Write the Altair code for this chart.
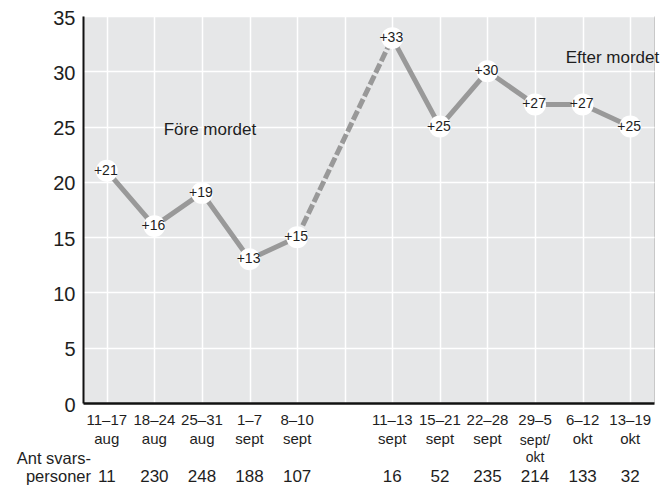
import altair as alt
import pandas as pd

periods = ["11–17", "18–24", "25–31", "1–7", "8–10",
           "11–13", "15–21", "22–28", "29–5", "6–12", "13–19"]
months = ["aug", "aug", "aug", "sept", "sept",
          "sept", "sept", "sept", "sept/", "okt", "okt"]
months_extra = ["", "", "", "", "", "", "", "", "okt", "", ""]
values = [21, 16, 19, 13, 15, 33, 25, 30, 27, 27, 25]
respondents = [11, 230, 248, 188, 107, 16, 52, 235, 214, 133, 32]
phase = ["pre"] * 5 + ["post"] * 6
gap_key = " "
x_domain = periods[:5] + [gap_key] + periods[5:]

ann_text = ["Före mordet", "Efter mordet"]
ann_x = ["25–31", "13–19"]
ann_y = [24.7, 31.2]
ann_align = ["center", "right"]

df = pd.DataFrame({
    "period": periods, "month": months, "month2": months_extra, "value": values,
    "resp": respondents, "phase": phase,
    "label": ["+%d" % v for v in values],
})
jump = df.iloc[[4, 5]].copy()

reg = "Liberation Sans, Arial, Helvetica, sans-serif"
ink = "#1e1e1e"

x = alt.X("period:N", scale=alt.Scale(domain=x_domain, paddingInner=0, paddingOuter=0),
          axis=alt.Axis(title=None, labels=False, ticks=False, grid=True, bandPosition=0,
                        gridColor="white", gridWidth=1.5, domainColor="#111", domainWidth=2.5))
y = alt.Y("value:Q", scale=alt.Scale(domain=[0, 35]),
          axis=alt.Axis(title=None, values=list(range(0, 36, 5)), ticks=False,
                        grid=True, gridColor="white", gridWidth=1.5,
                        domainColor="#111", domainWidth=2,
                        labelFont=reg, labelFontSize=20, labelColor=ink, labelPadding=8,
                        labelOffset=2))

base = alt.Chart(df)

solid = base.mark_line(color="#999999", strokeWidth=5).encode(x=x, y=y, detail="phase:N")
dashed = alt.Chart(jump).mark_line(color="#999999", strokeWidth=5, strokeDash=[10, 3]).encode(
    x="period:N", y="value:Q")
dots = base.mark_circle(size=480, color="white", opacity=1).encode(x="period:N", y="value:Q")
labels = base.mark_text(font=reg, fontSize=14, color=ink, dx=-1).encode(
    x="period:N", y="value:Q", text="label:N")

row1 = base.mark_text(font=reg, fontSize=15, color=ink, baseline="middle").encode(
    x="period:N", y=alt.value(404), text="period:N")
row2 = base.transform_filter("datum.period != '29–5'").mark_text(
    font=reg, fontSize=15, color=ink, baseline="middle").encode(
    x="period:N", y=alt.value(423), text="month:N")
row2b = base.transform_filter("datum.period == '29–5'").mark_text(
    font=reg, fontSize=14, color=ink, baseline="middle").encode(
    x="period:N", y=alt.value(425), text="month:N")
row2c = base.transform_filter("datum.month2 != ''").mark_text(
    font=reg, fontSize=14, color=ink, baseline="middle").encode(
    x="period:N", y=alt.value(442), text="month2:N")
row3 = base.mark_text(font=reg, fontSize=17, color=ink, baseline="middle").encode(
    x="period:N", y=alt.value(461), text="resp:Q")
rowtitle = alt.Chart(pd.DataFrame({"t": ["Ant svars-\npersoner"]})).mark_text(
    font=reg, fontSize=16.5, color=ink, align="right", baseline="middle",
    lineBreak="\n", lineHeight=18).encode(x=alt.value(8), y=alt.value(443), text="t:N")

ann = alt.Chart(pd.DataFrame({"t": ann_text, "period": ann_x, "value": ann_y, "al": ann_align}))
ann1 = ann.transform_filter("datum.al == 'center'").mark_text(
    font=reg, fontSize=17, color=ink, align="center", dx=8).encode(
    x="period:N", y="value:Q", text="t:N")
ann2 = ann.transform_filter("datum.al == 'right'").mark_text(
    font=reg, fontSize=17, color=ink, align="right", dx=29).encode(
    x="period:N", y="value:Q", text="t:N")

chart = alt.layer(solid, dashed, dots, labels, row1, row2, row2b, row2c, row3, rowtitle,
                  ann1, ann2).properties(
    width=571, height=387,
    autosize=alt.AutoSizeParams(type="none"),
    padding={"left": 75, "top": 8, "right": 10, "bottom": 82},
).configure_view(fill="#e6e7e8", stroke="#c8c8c8", strokeWidth=1)

chart.save("out.html", embed_options={"renderer": "svg", "actions": False})
